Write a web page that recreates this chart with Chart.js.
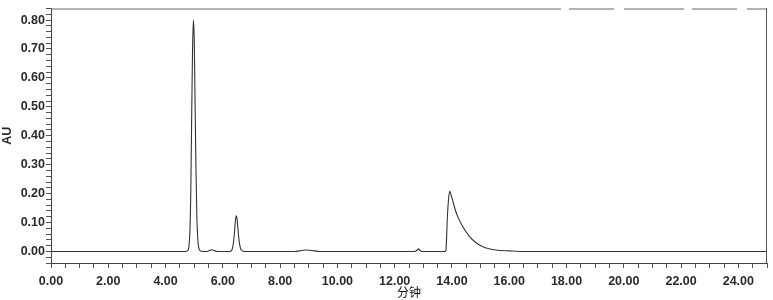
<!DOCTYPE html>
<html lang="zh">
<head>
    <meta charset="UTF-8" />
    <title>色谱图</title>
    <script src="https://cdn.jsdelivr.net/npm/chart.js"></script>
    <style>
        html, body { margin: 0; padding: 0; background: #fff; }
        #wrap { width: 773px; height: 300px; }
    </style>
</head>
<body>
<div id="wrap"><canvas id="chromChart" width="773" height="300"></canvas></div>
<script>
// retention time (min) and absorbance (AU)
var times = [0, 4.50, 4.70, 4.78, 4.82, 4.85, 4.88, 4.91, 4.94, 4.97, 5.00, 5.03, 5.06, 5.09, 5.12, 5.16, 5.22, 5.30,
    5.45, 5.55, 5.62, 5.70, 5.80,
    6.25, 6.32, 6.37, 6.41, 6.44, 6.47, 6.50, 6.53, 6.57, 6.62, 6.68, 6.75,
    8.50, 8.75, 8.90, 9.10, 9.40,
    12.70, 12.78, 12.83, 12.88, 12.95,
    13.75, 13.79, 13.84, 13.89, 13.93, 13.97, 14.02, 14.13, 14.25, 14.37, 14.48, 14.60, 14.83, 15.06, 15.30, 15.53, 16.00, 16.50,
    25.0];
var au = [0, 0, 0, 0.004, 0.02, 0.07, 0.20, 0.45, 0.68, 0.80, 0.74, 0.52, 0.30, 0.13, 0.05, 0.012, 0.002, 0,
    0, 0.004, 0.006, 0.003, 0,
    0, 0.006, 0.03, 0.07, 0.108, 0.123, 0.11, 0.075, 0.035, 0.01, 0.002, 0,
    0, 0.003, 0.005, 0.003, 0,
    0, 0.004, 0.009, 0.004, 0,
    0, 0.005, 0.12, 0.19, 0.208, 0.195, 0.178, 0.139, 0.110, 0.087, 0.070, 0.053, 0.031, 0.017, 0.009, 0.005, 0.002, 0,
    0];

var xMin = 0, xMax = 25, xStep = 0.5, xLabelEvery = 2;
var yMin = -0.04, yMax = 0.84, yStep = 0.02, yLabelEvery = 0.1;

var points = times.map(function (t, i) { return { x: t, y: au[i] }; });

function isMultiple(v, m) {
    var q = v / m;
    return Math.abs(q - Math.round(q)) < 1e-6;
}

// frame on top and right of the plot area
var framePlugin = {
    id: 'frame',
    afterDraw: function (chart) {
        var a = chart.chartArea, c = chart.ctx;
        c.save();
        c.lineWidth = 1;
        c.strokeStyle = '#666';
        c.beginPath();
        c.moveTo(a.left, a.top + 0.5);
        c.lineTo(a.left + 450, a.top + 0.5);
        c.stroke();
        c.setLineDash([60, 8, 45, 10]);
        c.beginPath();
        c.moveTo(a.left + 450, a.top + 0.5);
        c.lineTo(a.right, a.top + 0.5);
        c.stroke();
        c.setLineDash([]);
        c.strokeStyle = '#555';
        c.beginPath();
        c.moveTo(a.right - 0.5, a.top);
        c.lineTo(a.right - 0.5, a.bottom);
        c.stroke();
        c.restore();
    }
};

var tickFont = { family: 'Liberation Sans, Arial, sans-serif', size: 12.5, weight: 'bold' };

new Chart(document.getElementById('chromChart'), {
    type: 'line',
    data: {
        datasets: [{
            data: points,
            borderColor: '#333',
            borderWidth: 1.1,
            pointRadius: 0,
            fill: false,
            cubicInterpolationMode: 'monotone'
        }]
    },
    options: {
        responsive: false,
        animation: false,
        layout: { padding: { top: 3, right: 5, left: 0, bottom: 0 } },
        plugins: { legend: { display: false }, tooltip: { enabled: false } },
        scales: {
            x: {
                type: 'linear',
                min: xMin,
                max: xMax,
                grid: { drawOnChartArea: false, drawTicks: true, tickLength: 5, color: '#555' },
                border: { color: '#444', width: 1 },
                ticks: {
                    stepSize: xStep,
                    autoSkip: false,
                    maxRotation: 0,
                    padding: 6,
                    color: '#2a2a2a',
                    font: tickFont,
                    callback: function (v) { return isMultiple(v, xLabelEvery) ? v.toFixed(2) : ''; }
                },
                title: { display: true, text: '分钟', color: '#111', font: { family: 'Noto Sans CJK SC', size: 12 }, padding: { top: 0, bottom: 0 } },
                afterFit: function (s) { s.height = 37; }
            },
            y: {
                min: yMin,
                max: yMax,
                grid: { drawOnChartArea: false, drawTicks: true, tickLength: 5, color: '#555' },
                border: { color: '#444', width: 1 },
                ticks: {
                    stepSize: yStep,
                    autoSkip: false,
                    padding: 1,
                    color: '#2a2a2a',
                    font: tickFont,
                    callback: function (v) { return isMultiple(v, yLabelEvery) ? v.toFixed(2) : ''; }
                },
                title: { display: true, text: 'AU', color: '#2a2a2a', font: { family: 'Liberation Sans, Arial, sans-serif', size: 12.5, weight: 'bold' }, padding: { top: 0, bottom: 2 } },
                afterFit: function (s) { s.width = 51; }
            }
        }
    },
    plugins: [framePlugin]
});
</script>
</body>
</html>
